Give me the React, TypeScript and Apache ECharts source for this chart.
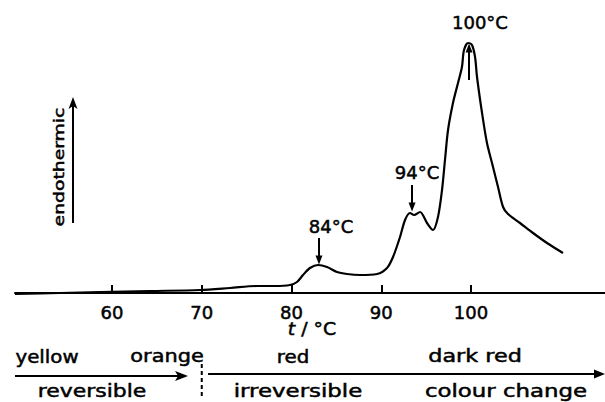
import React, { useEffect, useRef } from "react";
import * as echarts from "echarts";

// DSC trace (temperature in °C, heat flow in arbitrary units)
const temperatureC = [
  49.19, 54.21, 58.66, 64.23, 69.81, 73.15, 76.16, 78.16, 79.83, 80.61, 81.28, 82.06,
  82.95, 83.96, 85.07, 86.18, 87.63, 89.53, 90.64, 91.31, 92.09, 92.65, 93.2, 93.65,
  94.32, 95.1, 95.77, 96.32, 96.77, 97.1, 97.44, 97.99, 98.55, 98.99, 99.22, 99.67,
  100.11, 100.45, 100.67, 101.23, 101.78, 102.34, 103.01, 103.57, 104.12, 105.46,
  106.91, 108.47, 110.25,
];
const heatFlow = [
  -1, 0, 1, 2, 3, 5, 7, 7, 8, 11, 18, 25,
  28, 26, 21, 19, 18, 19, 25, 36, 56, 73, 80, 78,
  81, 70, 63, 76, 103, 133, 163, 190, 210, 226, 243, 250,
  248, 236, 216, 180, 150, 130, 106, 86, 79, 70,
  60, 50, 40,
];

const tickValues = [60, 70, 80, 90, 100];
const axisMin = 49.19;
const axisMax = 114.93;

// peak annotations
const peakLabels = ["84°C", "94°C", "100°C"];
const peakLabelT = [84.4, 93.98, 101.0];
const peakLabelV = [67, 121, 271];
const arrowT = [83.06, 93.43, 99.78];
const arrowFrom = [55, 108, 213];
const arrowTo = [33, 86, 245];

// colour behaviour strip
const colourNames = ["yellow", "orange", "red", "dark red"];
const colourT = [52.76, 66.13, 80.17, 100.45];
const colourScale = [1.1, 1.16, 1.1, 1.24];
const behaviourNames = ["reversible", "irreversible", "colour change"];
const behaviourT = [57.77, 80.72, 103.9];
const behaviourScale = [1.22, 1.27, 1.27];
const boundaryT = 70;
const reversibleEndT = 68.47;
const irreversibleStartT = 70.7;

const FONT = "'DejaVu Sans', sans-serif";
const INK = "#000";
const THICK = { textBorderColor: INK, textBorderWidth: 0.5 };

export default function App() {
  const ref = useRef<HTMLDivElement>(null);

  useEffect(() => {
    document.body.style.margin = "0";
    const chart = echarts.init(ref.current!, null, { renderer: "svg" });
    const curve = temperatureC.map((t, i) => [t, heatFlow[i]]);

    chart.setOption({
      animation: false,
      backgroundColor: "#fff",
      grid: { left: 15, right: 0, top: 3, bottom: 99 },
      xAxis: {
        type: "value",
        min: axisMin,
        max: axisMax,
        axisLine: { onZero: true, lineStyle: { color: INK, width: 2 } },
        axisTick: {
          show: true,
          inside: true,
          length: 8,
          customValues: tickValues,
          lineStyle: { color: INK, width: 2 },
        },
        axisLabel: {
          customValues: tickValues,
          color: INK,
          fontSize: 18,
          fontFamily: FONT,
          margin: 0,
          ...THICK,
        },
        splitLine: { show: false },
      },
      yAxis: { type: "value", min: -10, max: 290, show: false },
      series: [
        {
          type: "line",
          data: curve,
          showSymbol: false,
          smooth: 0.3,
          lineStyle: { color: INK, width: 2.2 },
          silent: true,
        },
        {
          type: "scatter",
          data: peakLabels.map((l, i) => [peakLabelT[i], peakLabelV[i], l]),
          symbolSize: 0,
          silent: true,
          itemStyle: { color: INK },
          label: {
            show: true,
            position: "inside",
            formatter: (p: any) => p.value[2],
            color: INK,
            fontSize: 18,
            fontFamily: FONT,
            opacity: 1,
            ...THICK,
          },
          markLine: {
            silent: true,
            symbol: ["none", "triangle"],
            symbolSize: [7, 9],
            label: { show: false },
            lineStyle: { color: INK, width: 2, type: "solid" },
            data: arrowT.map((t, i) => [
              { coord: [t, arrowFrom[i]] },
              { coord: [t, arrowTo[i]] },
            ]),
          },
        },
      ],
    });

    const px = (t: number) => chart.convertToPixel({ xAxisIndex: 0 }, t) as number;
    const text = (
      s: string,
      x: number,
      y: number,
      size: number,
      scaleX = 1,
      rotation = 0,
      extra: any = {}
    ) => ({
      type: "text",
      x,
      y,
      scaleX,
      rotation,
      silent: true,
      style: {
        text: s,
        fill: INK,
        fontSize: size,
        fontFamily: FONT,
        align: "center",
        textAlign: "center",
        verticalAlign: "middle",
        textVerticalAlign: "middle",
        stroke: INK,
        lineWidth: 0.5,
        ...extra,
      },
    });

    const lineStyle = { stroke: INK, lineWidth: 2 };
    const yArrowLeft = 376;
    const yArrowRight = 374;
    const xStart = px(axisMin);
    const xEnd = px(axisMax);
    const xTipL = px(reversibleEndT);
    const xBoundary = px(boundaryT);
    const xStartR = px(irreversibleStartT);

    const graphic: any[] = [
      // endothermic arrow
      { type: "line", silent: true, shape: { x1: 73, y1: 223, x2: 73, y2: 104 }, style: lineStyle },
      {
        type: "polygon",
        silent: true,
        shape: { points: [[73, 97], [68.5, 109], [73, 106], [77.5, 109]] },
        style: { fill: INK },
      },
      text("endothermic", 59.5, 167, 14, 1.34, Math.PI / 2),
      // axis title
      text("{i|t} / °C", 312, 329, 18, 1.05, 0, {
        rich: { i: { fontStyle: "italic", fontSize: 18, fontFamily: FONT, fill: INK, stroke: INK, lineWidth: 0.5 } },
      }),
      // reversible arrow
      { type: "line", silent: true, shape: { x1: xStart, y1: yArrowLeft, x2: xTipL - 8, y2: yArrowLeft }, style: lineStyle },
      {
        type: "polygon",
        silent: true,
        shape: { points: [[xTipL, yArrowLeft], [xTipL - 13, yArrowLeft - 5], [xTipL - 10, yArrowLeft], [xTipL - 13, yArrowLeft + 5]] },
        style: { fill: INK },
      },
      // boundary
      {
        type: "line",
        silent: true,
        shape: { x1: xBoundary, y1: 364, x2: xBoundary, y2: 397 },
        style: { stroke: INK, lineWidth: 2, lineDash: [4, 3] },
      },
      // irreversible arrow
      { type: "line", silent: true, shape: { x1: xStartR, y1: yArrowRight, x2: xEnd - 6, y2: yArrowRight }, style: lineStyle },
      {
        type: "polygon",
        silent: true,
        shape: { points: [[xEnd, yArrowRight], [xEnd - 11, yArrowRight - 4.5], [xEnd - 11, yArrowRight + 4.5]] },
        style: { fill: INK },
      },
    ];
    colourNames.forEach((n, i) => graphic.push(text(n, px(colourT[i]), 356, 18, colourScale[i])));
    behaviourNames.forEach((n, i) => graphic.push(text(n, px(behaviourT[i]), 391, 18, behaviourScale[i])));

    chart.setOption({ graphic });

    return () => chart.dispose();
  }, []);

  return <div ref={ref} style={{ width: 605, height: 402 }} />;
}
